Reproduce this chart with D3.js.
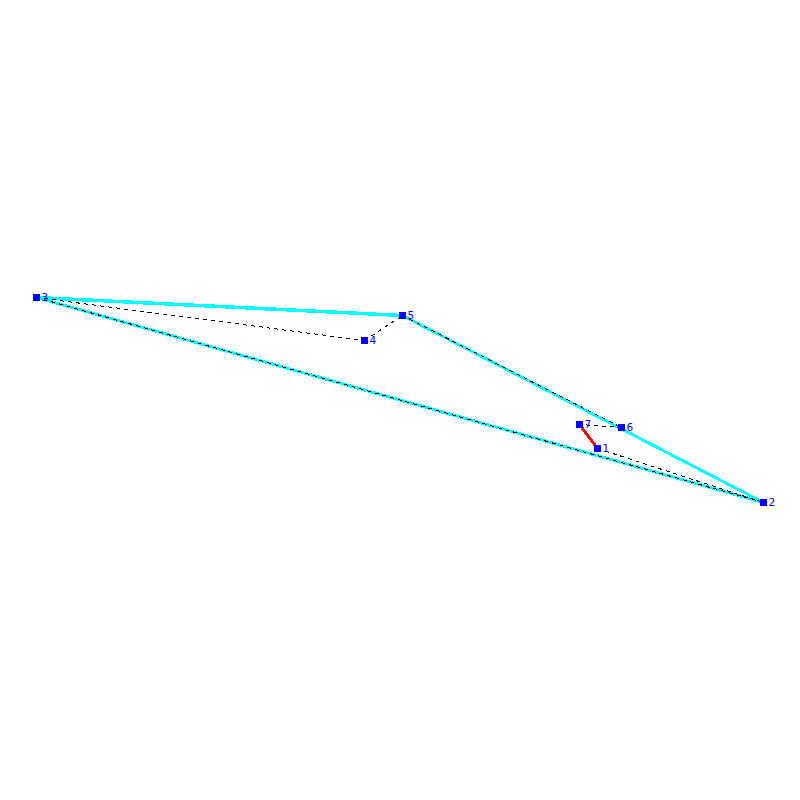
<!DOCTYPE html>
<html>
<head>
<meta charset="utf-8">
<script src="https://cdnjs.cloudflare.com/ajax/libs/d3/7.8.5/d3.min.js"></script>
<style>
  html, body { margin: 0; padding: 0; background: #fff; }
  svg { display: block; }
</style>
</head>
<body>
<div id="plot-container"></div>
<script>
// Node ids and positions
const nodeIds = [1, 2, 3, 4, 5, 6, 7];
const nodeX = [597.5, 763.5, 36.5, 364.5, 402.5, 621.5, 579.5];
const nodeY = [448.5, 502.5, 297.5, 340.5, 315.5, 427.5, 424.5];

// Edges as pairs of node ids
const hullEdges = [[2, 3], [5, 2]];
const thickHullEdges = [[3, 5]];
const tourEdges = [[1, 2], [2, 3], [3, 4], [4, 5], [5, 6], [6, 7]];
const redEdges = [[7, 1]];

const width = 800;
const height = 800;

const x = d3.scaleLinear().domain([0, 800]).range([0, width]);
const y = d3.scaleLinear().domain([0, 800]).range([0, height]);

const svg = d3.select("#plot-container")
  .append("svg")
  .attr("width", width)
  .attr("height", height);

const px = id => x(nodeX[nodeIds.indexOf(id)]);
const py = id => y(nodeY[nodeIds.indexOf(id)]);

function drawEdges(edges, color, lineWidth, dash) {
  svg.append("g")
    .selectAll("line")
    .data(edges)
    .enter()
    .append("line")
    .attr("x1", d => px(d[0]))
    .attr("y1", d => py(d[0]))
    .attr("x2", d => px(d[1]))
    .attr("y2", d => py(d[1]))
    .attr("stroke", color)
    .attr("stroke-width", lineWidth)
    .attr("stroke-dasharray", dash)
    .attr("shape-rendering", "crispEdges");
}

drawEdges(hullEdges, "#00ffff", 3, null);
drawEdges(thickHullEdges, "#00ffff", 3.5, null);
drawEdges(tourEdges, "#000000", 1, "4,4");
drawEdges(redEdges, "#ff0000", 3, null);

// Nodes
svg.append("g")
  .selectAll("rect")
  .data(nodeIds)
  .enter()
  .append("rect")
  .attr("x", d => px(d) - 3.5)
  .attr("y", d => py(d) - 3.5)
  .attr("width", 7)
  .attr("height", 7)
  .attr("fill", "#0000ff")
  .attr("shape-rendering", "crispEdges");

// Labels
svg.append("g")
  .selectAll("text")
  .data(nodeIds)
  .enter()
  .append("text")
  .attr("x", d => px(d) + 5)
  .attr("y", d => py(d) + 3.5)
  .attr("fill", "#0000ff")
  .style("font-family", "DejaVu Sans")
  .style("font-size", "10.5px")
  .text(d => d);
</script>
</body>
</html>
